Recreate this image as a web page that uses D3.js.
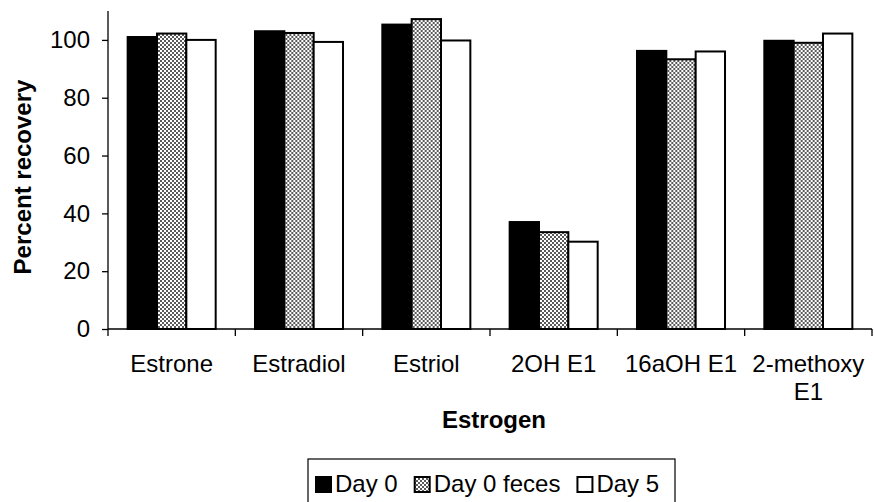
<!DOCTYPE html>
<html>
<head>
<meta charset="UTF-8">
<title>Percent recovery</title>
<style>
body { margin: 0; background: #fff; }
text { font-family: "Liberation Sans", Arial, sans-serif; fill: #000; }
.bar { stroke: #000; stroke-width: 2; }
.axis_line { stroke: #000; stroke-width: 1.3; fill: none; }
</style>
<script src="https://cdn.jsdelivr.net/npm/d3@7"></script>
</head>
<body>
<div id="chart"></div>
<script>
// data
var categories = ["Estrone", "Estradiol", "Estriol", "2OH E1", "16aOH E1", "2-methoxy E1"];
var seriesNames = ["Day 0", "Day 0 feces", "Day 5"];
var day0 = [101, 103, 105.3, 37, 96.2, 99.7];
var day0Feces = [102.2, 102.4, 107.2, 33.5, 93.3, 99];
var day5 = [100, 99.3, 99.8, 30.2, 96, 102.2];
var yTicks = [0, 20, 40, 60, 80, 100];

var width = 874, height = 502;
var plotLeft = 108, plotRight = 872, plotTop = 11, plotBottom = 329;
var fontSize = 24;

var svg = d3.select("#chart").append("svg")
    .attr("width", width)
    .attr("height", height);

var defs = svg.append("defs");
var pat = defs.append("pattern")
    .attr("id", "dots")
    .attr("patternUnits", "userSpaceOnUse")
    .attr("width", 4).attr("height", 4);
pat.append("rect").attr("width", 4).attr("height", 4).attr("fill", "#fff");
pat.append("circle").attr("cx", 1).attr("cy", 1).attr("r", 1).attr("fill", "#222");
pat.append("circle").attr("cx", 3).attr("cy", 3).attr("r", 1).attr("fill", "#222");

var fills = ["#000", "url(#dots)", "#fff"];
var values = [day0, day0Feces, day5];

var x0 = d3.scaleBand().domain(categories).range([plotLeft, plotRight]).padding(0);
var x1 = d3.scaleBand().domain(seriesNames).range([0, x0.bandwidth()])
    .paddingInner(0).paddingOuter(0.67);
var y = d3.scaleLinear().domain([0, 110]).range([plotBottom, plotTop]);

// bars
var groups = svg.selectAll(".grp")
    .data(categories)
    .enter().append("g")
    .attr("class", "grp")
    .attr("transform", function(d) { return "translate(" + x0(d) + ",0)"; });

groups.selectAll("rect")
    .data(function(d, i) {
        return seriesNames.map(function(s, j) { return {s: s, j: j, v: values[j][i]}; });
    })
    .enter().append("rect")
    .attr("class", "bar")
    .attr("x", function(d) { return x1(d.s); })
    .attr("width", x1.bandwidth())
    .attr("y", function(d) { return y(d.v); })
    .attr("height", function(d) { return plotBottom - y(d.v); })
    .attr("fill", function(d) { return fills[d.j]; });

// y axis
var yAxis = d3.axisLeft(y).tickValues(yTicks).tickSize(6).tickPadding(12);
var gy = svg.append("g").attr("transform", "translate(" + plotLeft + ",0)").call(yAxis);
gy.select(".domain").attr("class", "axis_line").attr("d", "M0," + plotTop + "V" + plotBottom);
gy.selectAll(".tick line").attr("stroke", "#000").attr("stroke-width", 1.3);
gy.selectAll(".tick text").attr("font-size", fontSize).attr("font-family", "Liberation Sans, Arial, sans-serif");

// x axis line and boundary ticks
svg.append("line").attr("class", "axis_line")
    .attr("x1", plotLeft).attr("x2", plotRight).attr("y1", plotBottom).attr("y2", plotBottom);
var bounds = categories.map(function(c) { return x0(c); }).concat([plotRight]);
svg.selectAll(".xtick").data(bounds).enter().append("line")
    .attr("class", "axis_line")
    .attr("x1", function(d) { return d; }).attr("x2", function(d) { return d; })
    .attr("y1", plotBottom).attr("y2", plotBottom + 7);

// category labels, wrapped when too wide
svg.selectAll(".xlab").data(categories).enter().append("text")
    .attr("class", "xlab")
    .attr("text-anchor", "middle")
    .attr("font-size", fontSize)
    .attr("x", function(d) { return x0(d) + x0.bandwidth() / 2; })
    .attr("y", 372)
    .each(function(d) {
        var t = d3.select(this);
        t.text(d);
        if (this.getComputedTextLength() > x0.bandwidth() - 8) {
            var words = d.split(" ");
            t.text(null);
            t.append("tspan").attr("x", t.attr("x")).text(words.slice(0, -1).join(" "));
            t.append("tspan").attr("x", t.attr("x")).attr("dy", 28).text(words[words.length - 1]);
        }
    });

// axis titles
svg.append("text")
    .attr("text-anchor", "middle")
    .attr("font-size", fontSize).attr("font-weight", "bold")
    .attr("x", 494).attr("y", 428)
    .text("Estrogen");

svg.append("text")
    .attr("text-anchor", "middle")
    .attr("font-size", fontSize).attr("font-weight", "bold")
    .attr("transform", "translate(31,177) rotate(-90)")
    .text("Percent recovery");

// legend
var legend = svg.append("g");
legend.append("rect")
    .attr("x", 308).attr("y", 459).attr("width", 367).attr("height", 50)
    .attr("fill", "#fff").attr("stroke", "#000").attr("stroke-width", 1.2);
var lx = 316;
seriesNames.forEach(function(s, j) {
    legend.append("rect")
        .attr("x", lx).attr("y", 477).attr("width", 15).attr("height", 15)
        .attr("fill", fills[j]).attr("stroke", "#000").attr("stroke-width", 2);
    var t = legend.append("text")
        .attr("x", lx + 19).attr("y", 492)
        .attr("font-size", fontSize)
        .text(s);
    lx = lx + 19 + t.node().getComputedTextLength() + 17;
});
</script>
</body>
</html>
